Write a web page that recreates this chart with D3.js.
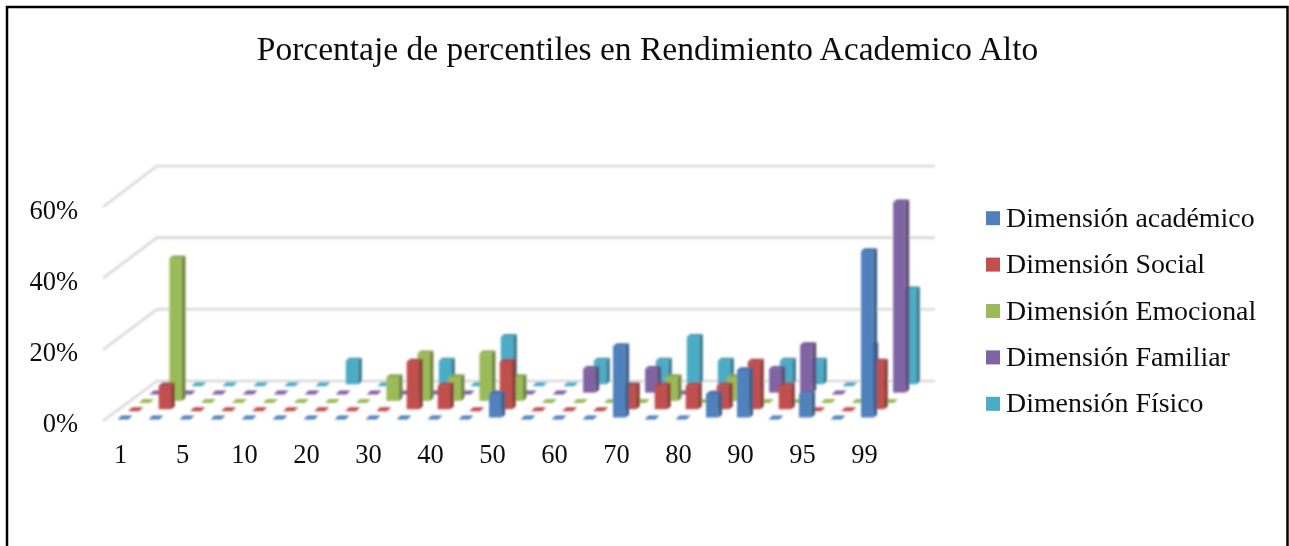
<!DOCTYPE html>
<html><head><meta charset="utf-8">
<script src="https://cdn.jsdelivr.net/npm/d3@7"></script>
<style>html,body{margin:0;padding:0;background:#fff;overflow:hidden}svg{display:block}text{font-family:"Liberation Serif",serif;fill:#111}</style>
</head><body><svg id="c" width="1289" height="546"></svg>
<script>
const categories=[1,3,5,8,10,15,20,25,30,35,40,45,50,55,60,65,70,75,80,85,90,93,95,97,99];
const tickLabels=[1,5,10,20,30,40,50,60,70,80,90,95,99];
const seriesNames=["Dimensión académico","Dimensión Social","Dimensión Emocional","Dimensión Familiar","Dimensión Físico"];
const academico=[0,0,0,0,0,0,0,0,0,0,0,0,6.67,0,0,0,20,0,0,6.67,13.33,0,6.67,0,46.67];
const social=[0,6.67,0,0,0,0,0,0,0,13.33,6.67,0,13.33,0,0,0,6.67,6.67,6.67,6.67,13.33,6.67,0,0,13.33];
const emocional=[0,40,0,0,0,0,0,0,6.67,13.33,6.67,13.33,6.67,0,0,0,0,6.67,0,6.67,0,0,0,0,0];
const familiar=[0,0,0,0,0,0,0,0,0,0,0,0,0,0,6.67,0,6.67,0,0,0,6.67,13.33,0,13.33,53.33];
const fisico=[0,0,0,0,0,0,6.67,0,0,6.67,0,13.33,0,0,6.67,0,6.67,13.33,6.67,0,6.67,6.67,0,0,26.67];
const colors=["#4f81bd","#c0504d","#9bbb59","#8064a2","#4bacc6"];
const yTicks=[0,20,40,60];
const title="Porcentaje de percentiles en Rendimiento Academico Alto";
const allSeries=[academico,social,emocional,familiar,fisico];

const svg=d3.select("#c");
const defs=svg.append("defs");
defs.append("filter").attr("id","soft").append("feGaussianBlur").attr("stdDeviation",0.8);
defs.append("filter").attr("id","softT").append("feGaussianBlur").attr("stdDeviation",0.4);

svg.append("path").attr("d","M7 546V7H1287.5V546").attr("fill","none").attr("stroke","#000").attr("stroke-width",2.5);

svg.append("text").attr("x",647.5).attr("y",60).attr("text-anchor","middle").attr("font-size",33.5).attr("filter","url(#softT)").text(title);

const x=d3.scalePoint().domain(categories).range([125,125+31*24]);
const y=d3.scaleLinear().domain([0,60]).range([0,214]);
const rowX=d3.scaleLinear().domain([0,4]).range([0,42.8]);
const rowY=d3.scaleLinear().domain([0,4]).range([417.5,384.3]);

const plot=svg.append("g").attr("filter","url(#soft)");
const wallY=v=>381-y(v)*1.005;
yTicks.forEach(t=>{
  const yb=wallY(t), yf=421-y(t);
  plot.append("path").attr("d",`M103 ${yf}L157 ${yb}L935 ${yb}`).attr("fill","none").attr("stroke","#d9d9d9").attr("stroke-width",2.6);
});
const W=12.5,S=3.6,T=2.8;
for(let z=4;z>=0;z--){
  const col=d3.color(colors[z]), dark=col.darker(0.9), top=col.darker(0.35);
  const g=plot.append("g");
  categories.forEach((c,i)=>{
    const v=allSeries[z][i];
    const cx=x(c)+rowX(z), base=rowY(z), h=y(v);
    if(v===0){
      g.append("path").attr("d",`M${cx-7.5} ${base+2}L${cx-3.5} ${base-2}L${cx+7.5} ${base-2}L${cx+3.5} ${base+2}Z`).attr("fill",col.formatHex());
      return;
    }
    const l=cx-8, r=l+W;
    g.append("rect").attr("x",l).attr("y",base-h).attr("width",W).attr("height",h).attr("fill",col.formatHex());
    g.append("path").attr("d",`M${r} ${base-h}L${r+S} ${base-h-T}L${r+S} ${base-T}L${r} ${base}Z`).attr("fill",dark.formatHex());
    g.append("path").attr("d",`M${l} ${base-h}L${l+S} ${base-h-T}L${r+S} ${base-h-T}L${r} ${base-h}Z`).attr("fill",top.formatHex());
  });
}
const fs=26.5;
const ax=svg.append("g").attr("transform","translate(-5,463)").attr("filter","url(#softT)")
  .call(d3.axisBottom(x).tickValues(tickLabels).tickSize(0).tickPadding(0));
ax.select(".domain").remove();
ax.selectAll("text").attr("font-size",fs).attr("dy","0").style("font-family",'"Liberation Serif",serif').style("fill","#111");
const yAxisScale=d3.scaleLinear().domain([0,60]).range([422,209]);
const ay=svg.append("g").attr("transform","translate(78,0)").attr("filter","url(#softT)")
  .call(d3.axisLeft(yAxisScale).tickValues(yTicks).tickFormat(d=>d+"%").tickSize(0).tickPadding(0));
ay.select(".domain").remove();
ay.selectAll("text").attr("font-size",fs).attr("dy","0.35em").style("font-family",'"Liberation Serif",serif').style("fill","#111");
const leg=d3.scaleBand().domain(seriesNames).range([195,427]);
const lg=svg.append("g").attr("filter","url(#softT)");
seriesNames.forEach((n,i)=>{
  const cy=leg(n)+leg.bandwidth()/2;
  lg.append("rect").attr("x",986).attr("y",cy-7).attr("width",14).attr("height",14).attr("fill",colors[i]);
  lg.append("text").attr("x",1006).attr("y",cy+8.5).attr("font-size",27.9).text(n);
});
</script></body></html>
